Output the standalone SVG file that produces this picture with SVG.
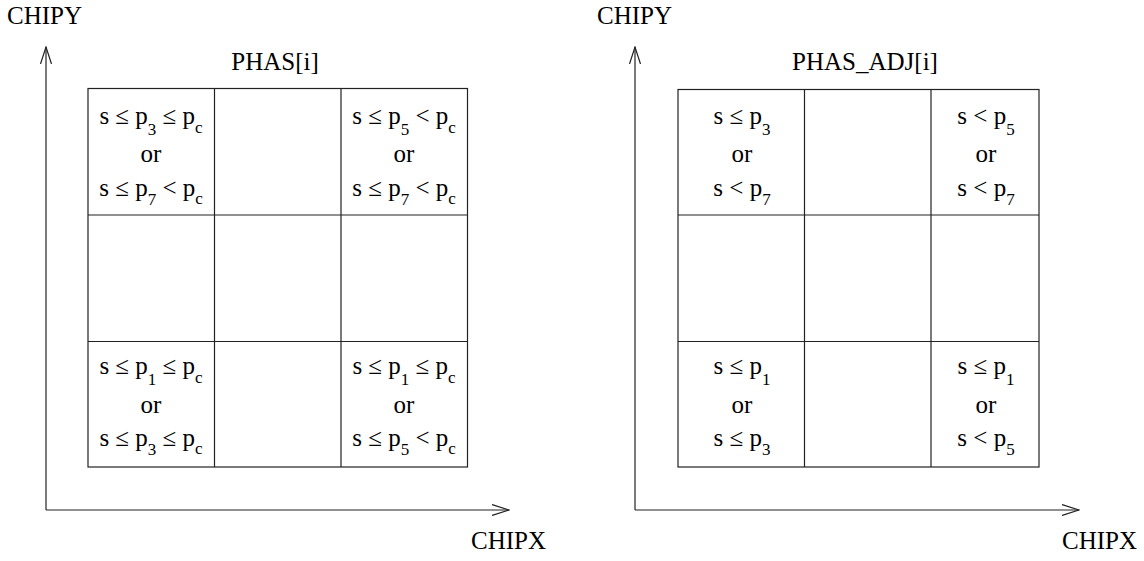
<svg xmlns="http://www.w3.org/2000/svg" width="1144" height="561" viewBox="0 0 1144 561">
<style>
text{font-family:"Liberation Serif","Times New Roman",serif;font-size:25px;fill:#000}
.c{text-anchor:middle}
.s{font-size:17px}
.ln{stroke:#222;stroke-width:1.2;fill:none}
.cell{stroke:#222;stroke-width:1.2;fill:#fff}
</style>
<defs>
<marker id="arr" viewBox="0 0 18 12" refX="17" refY="6" markerWidth="18" markerHeight="12" markerUnits="userSpaceOnUse" orient="auto">
<path d="M0,0.5 L17,6 L0,11.5" fill="none" stroke="#222" stroke-width="1.2"/>
</marker>
</defs>
<rect width="1144" height="561" fill="#fff"/>
<g id="connectors">
<path class="ln" d="M46,510 V47" marker-end="url(#arr)"/>
<path class="ln" d="M46,510 H509" marker-end="url(#arr)"/>
<path class="ln" d="M635,510 V47" marker-end="url(#arr)"/>
<path class="ln" d="M635,510 H1079" marker-end="url(#arr)"/>
</g>
<g id="labels">
<text x="7" y="24">CHIPY</text>
<text x="597" y="24">CHIPY</text>
<text x="471" y="549">CHIPX</text>
<text x="1062" y="549">CHIPX</text>
</g>
<g id="phas">
<text class="c" x="275" y="70">PHAS[i]</text>
<rect class="cell" x="88" y="88.5" width="379.5" height="378.5"/>
<path class="ln" d="M214.5,88.5 V467 M341,88.5 V467 M88,215 H467.5 M88,341.5 H467.5"/>
<g id="phas-tl">
<text class="c" x="151" y="124">s ≤ p<tspan class="s" dy="11">3</tspan><tspan dy="-11"> ≤ p</tspan><tspan class="s" dy="9">c</tspan></text>
<text class="c" x="151" y="162">or</text>
<text class="c" x="151" y="196">s ≤ p<tspan class="s" dy="9">7</tspan><tspan dy="-9"> &lt; p</tspan><tspan class="s" dy="8">c</tspan></text>
</g>
<g id="phas-tr">
<text class="c" x="404" y="124">s ≤ p<tspan class="s" dy="11">5</tspan><tspan dy="-11"> &lt; p</tspan><tspan class="s" dy="9">c</tspan></text>
<text class="c" x="404" y="162">or</text>
<text class="c" x="404" y="196">s ≤ p<tspan class="s" dy="9">7</tspan><tspan dy="-9"> &lt; p</tspan><tspan class="s" dy="8">c</tspan></text>
</g>
<g id="phas-bl">
<text class="c" x="151" y="374">s ≤ p<tspan class="s" dy="11">1</tspan><tspan dy="-11"> ≤ p</tspan><tspan class="s" dy="9">c</tspan></text>
<text class="c" x="151" y="413">or</text>
<text class="c" x="151" y="446">s ≤ p<tspan class="s" dy="9">3</tspan><tspan dy="-9"> ≤ p</tspan><tspan class="s" dy="8">c</tspan></text>
</g>
<g id="phas-br">
<text class="c" x="404" y="374">s ≤ p<tspan class="s" dy="11">1</tspan><tspan dy="-11"> ≤ p</tspan><tspan class="s" dy="9">c</tspan></text>
<text class="c" x="404" y="413">or</text>
<text class="c" x="404" y="446">s ≤ p<tspan class="s" dy="9">5</tspan><tspan dy="-9"> &lt; p</tspan><tspan class="s" dy="8">c</tspan></text>
</g>
</g>
<g id="phas-adj">
<text class="c" x="865" y="70">PHAS_ADJ[i]</text>
<rect class="cell" x="678" y="89.5" width="361" height="377.5"/>
<path class="ln" d="M804.5,89.5 V467 M931,89.5 V467 M678,215 H1039 M678,341.5 H1039"/>
<g id="adj-tl">
<text class="c" x="742" y="124">s ≤ p<tspan class="s" dy="11">3</tspan></text>
<text class="c" x="742" y="162">or</text>
<text class="c" x="742" y="196">s &lt; p<tspan class="s" dy="9">7</tspan></text>
</g>
<g id="adj-tr">
<text class="c" x="986" y="124">s &lt; p<tspan class="s" dy="11">5</tspan></text>
<text class="c" x="986" y="162">or</text>
<text class="c" x="986" y="196">s &lt; p<tspan class="s" dy="9">7</tspan></text>
</g>
<g id="adj-bl">
<text class="c" x="742" y="374">s ≤ p<tspan class="s" dy="11">1</tspan></text>
<text class="c" x="742" y="413">or</text>
<text class="c" x="742" y="446">s ≤ p<tspan class="s" dy="9">3</tspan></text>
</g>
<g id="adj-br">
<text class="c" x="986" y="374">s ≤ p<tspan class="s" dy="11">1</tspan></text>
<text class="c" x="986" y="413">or</text>
<text class="c" x="986" y="446">s &lt; p<tspan class="s" dy="9">5</tspan></text>
</g>
</g>
</svg>
